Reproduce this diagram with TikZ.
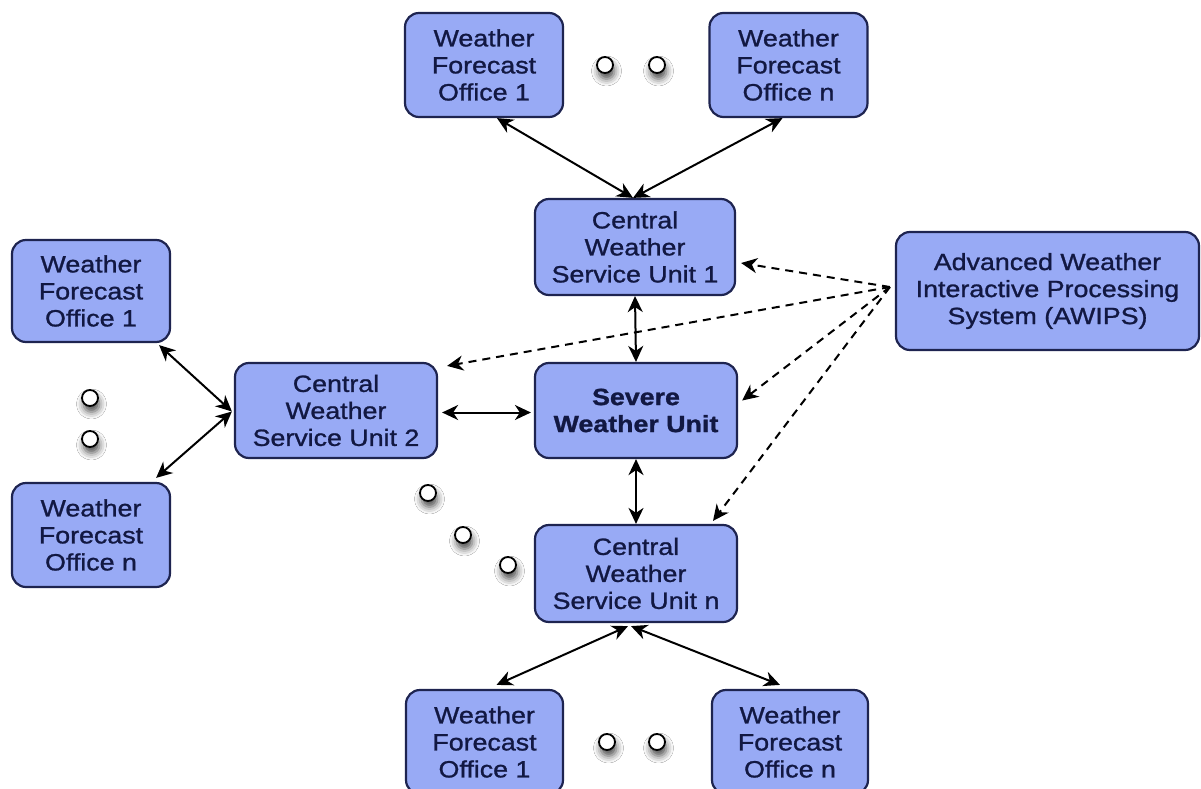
\documentclass[tikz,border=0pt]{standalone}
\usepackage{fontspec}
\setmainfont{Liberation Sans}[FakeStretch=1.14,FakeBold=1.1]
\usetikzlibrary{arrows.meta,calc,shadows.blur}
\definecolor{boxfill}{RGB}{152,170,245}
\definecolor{boxline}{RGB}{30,36,80}
\definecolor{boxtext}{RGB}{18,24,66}
\begin{document}
\begin{tikzpicture}[x=1pt,y=-1pt,
  box/.style={draw=boxline,line width=2.2pt,fill=boxfill,rounded corners=14pt,
    text=boxtext,align=center,inner sep=0pt,
    font=\fontsize{23.5}{27}\selectfont},
  tip/.tip={Stealth[length=16pt,width=15pt,inset=5pt]},
  conn/.style={line width=2pt,tip-tip},
  dconn/.style={line width=2pt,dash pattern=on 8pt off 6pt,-tip},
  dot/.style={circle,draw=black,line width=1.8pt,fill=white,minimum size=16pt,inner sep=0pt,
    blur shadow={shadow xshift=1.5pt,shadow yshift=-6pt,shadow blur radius=7pt,shadow opacity=70}}]
\useasboundingbox (0,0) rectangle (1201,789);
\fill[white] (0,0) rectangle (1201,789);

% nodes
\node[box,minimum width=158pt,minimum height=104pt] (t1) at (484,65) {Weather\\Forecast\\Office 1};
\node[box,minimum width=158pt,minimum height=104pt] (tn) at (788.5,65) {Weather\\Forecast\\Office n};
\node[box,minimum width=200pt,minimum height=96pt] (c1) at (635,247) {Central\\Weather\\Service Unit 1};
\node[box,minimum width=158pt,minimum height=102pt] (l1) at (91,291) {Weather\\Forecast\\Office 1};
\node[box,minimum width=158pt,minimum height=104pt] (ln) at (91,535) {Weather\\Forecast\\Office n};
\node[box,minimum width=202pt,minimum height=95pt] (c2) at (336,410.5) {Central\\Weather\\Service Unit 2};
\node[box,minimum width=303pt,minimum height=118pt] (aw) at (1047.5,291) {Advanced Weather\\Interactive Processing\\System (AWIPS)};
\node[box,minimum width=202pt,minimum height=95pt,font=\fontsize{23.5}{27}\selectfont\bfseries] (sw) at (636,410.5) {Severe\\Weather Unit};
\node[box,minimum width=202pt,minimum height=97pt] (cn) at (636,573.5) {Central\\Weather\\Service Unit n};
\node[box,minimum width=157pt,minimum height=104pt] (b1) at (484.5,742) {Weather\\Forecast\\Office 1};
\node[box,minimum width=156pt,minimum height=104pt] (bn) at (790,742) {Weather\\Forecast\\Office n};

% ellipsis dots
\node[dot] (d1) at (605,65) {};
\node[dot] (d2) at (657,65) {};
\node[dot] (d3) at (90,398) {};
\node[dot] (d4) at (90,439) {};
\node[dot] (d5) at (428,493) {};
\node[dot] (d6) at (463,535) {};
\node[dot] (d7) at (508,565) {};
\node[dot] (d8) at (607,742) {};
\node[dot] (d9) at (657,742) {};

% solid connectors
\draw[conn] ($(t1.south)+(13,0)$) -- ($(c1.north)+(-2,0)$);
\draw[conn] ($(tn.south)+(-6,0)$) -- ($(c1.north)+(-2,0)$);
\draw[conn] (c1.south) -- (sw.north);
\draw[conn] (sw.south) -- (cn.north);
\draw[conn] ($(c2.east)+(4,2)$) -- ($(sw.west)+(-3,2)$);
\draw[conn] ($(l1.south east)+(-12,2)$) -- ($(c2.west)+(-2,1)$);
\draw[conn] ($(ln.north east)+(-15,-4)$) -- ($(c2.west)+(-2,1)$);
\draw[conn] ($(cn.south)+(-8,3)$) -- ($(b1.north)+(12,-4)$);
\draw[conn] ($(cn.south)+(-5,3)$) -- ($(bn.north)+(-10,-4)$);

% dashed connectors from AWIPS
\coordinate (src) at ($(aw.west)+(-5,-4)$);
\draw[dconn] (src) -- ($(c1.east)+(5,16)$);
\draw[dconn] (src) -- ($(c2.north east)+(9,4)$);
\draw[dconn] (src) -- ($(sw.east)+(4,-10)$);
\draw[dconn] (src) -- ($(cn.north)+(77,-3)$);
\end{tikzpicture}
\end{document}
